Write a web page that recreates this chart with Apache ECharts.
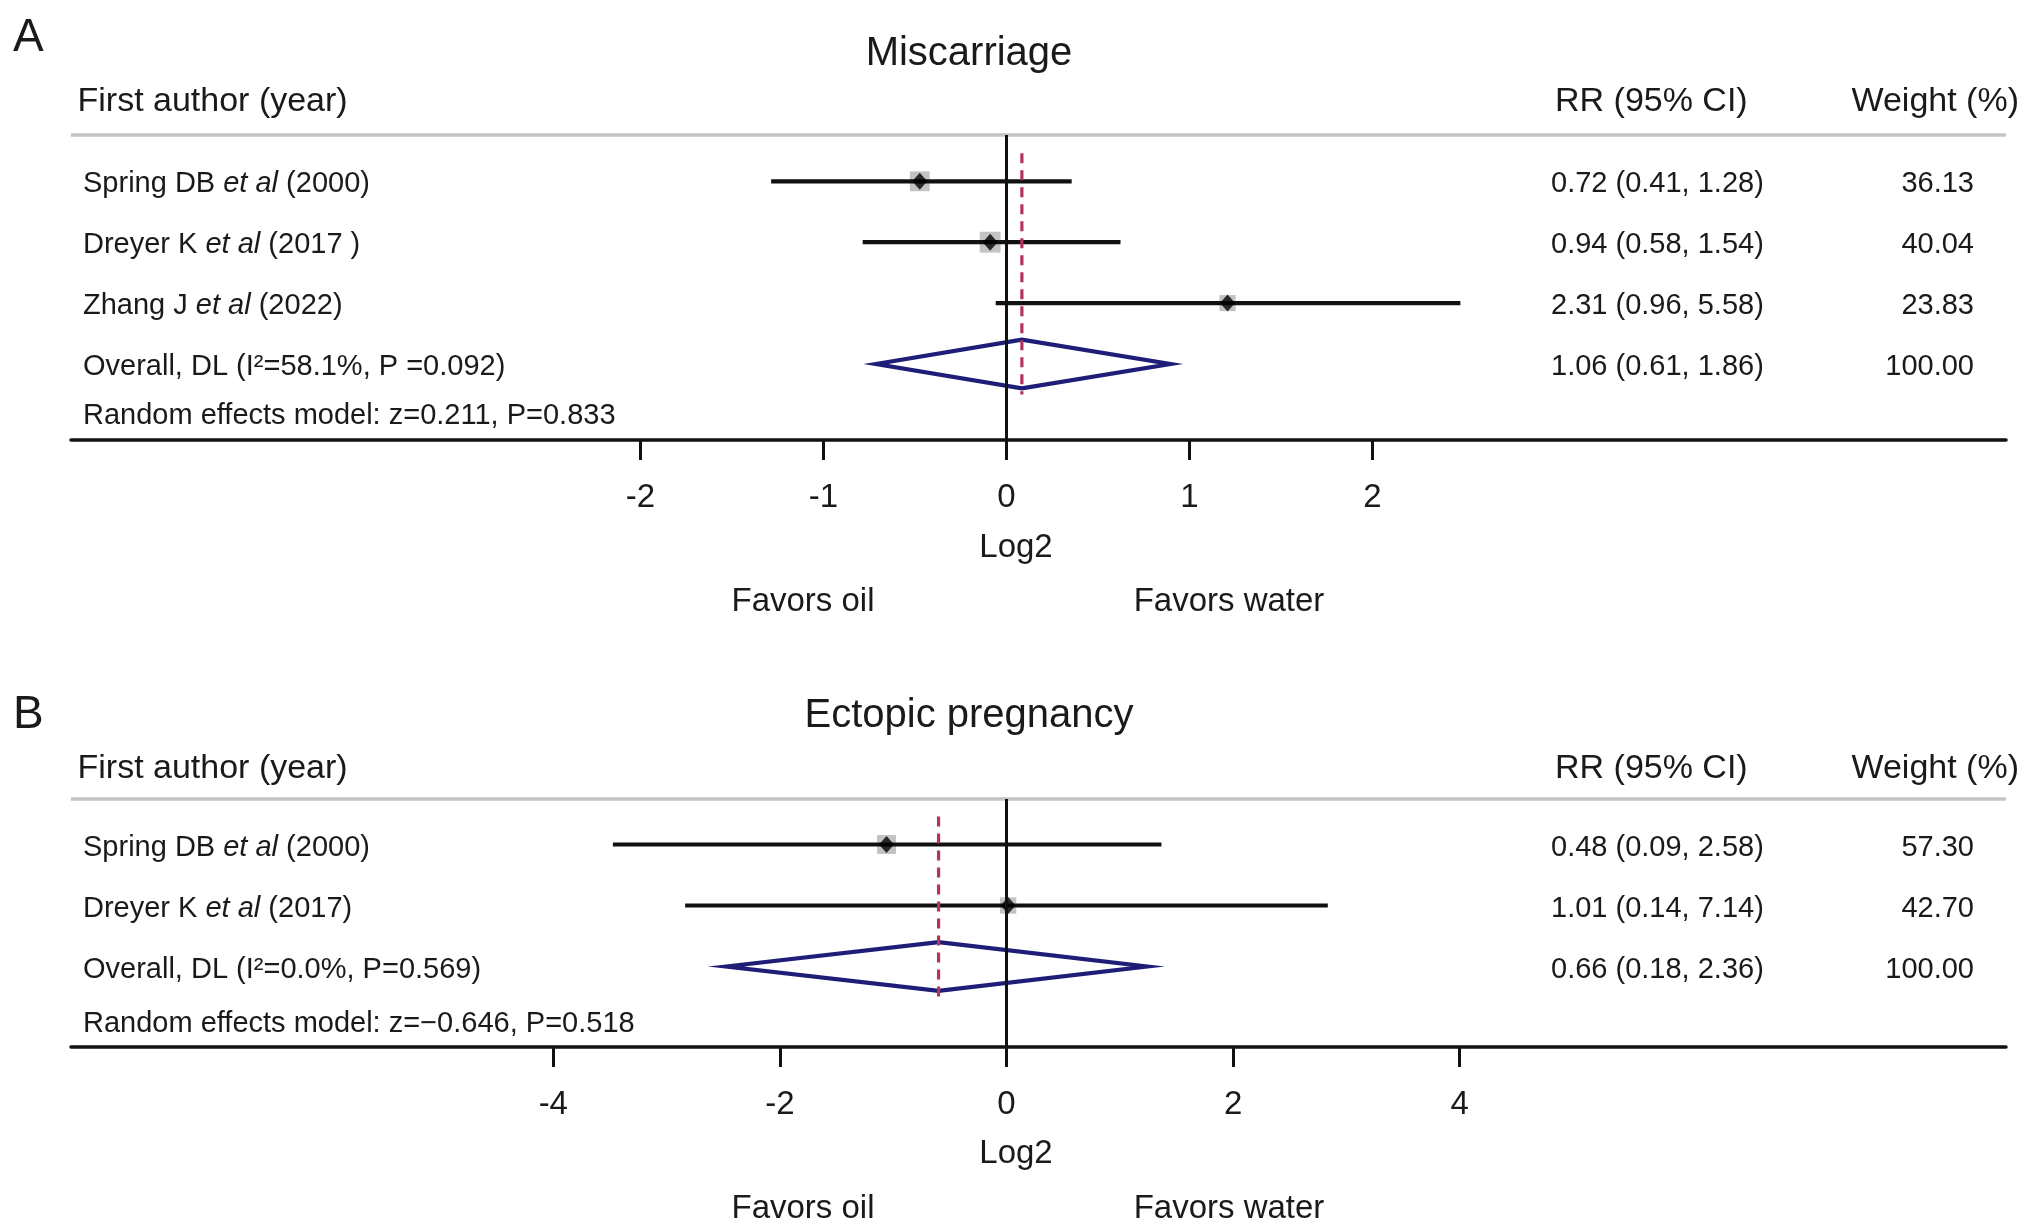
<!DOCTYPE html>
<html>
<head>
<meta charset="utf-8">
<script src="https://cdn.jsdelivr.net/npm/echarts@6/dist/echarts.min.js"></script>
<style>
html,body{margin:0;padding:0;background:#fff;}
#chart{width:2031px;height:1230px;}
</style>
</head>
<body>
<div id="chart"></div>
<script>
// ---------------- Panel A: Miscarriage ----------------
const titleA = 'Miscarriage';
const studiesA = ['Spring DB', 'Dreyer K', 'Zhang J'];
const yearsA = ['(2000)', '(2017 )', '(2022)'];
const rrA = [0.72, 0.94, 2.31];
const lowerA = [0.41, 0.58, 0.96];
const upperA = [1.28, 1.54, 5.58];
const weightA = [36.13, 40.04, 23.83];
const overallA = [1.06, 0.61, 1.86];          // RR, lower, upper
const overallLabelA = 'Overall, DL (I\u00B2=58.1%, P =0.092)';
const modelLabelA = 'Random effects model: z=0.211, P=0.833';
const ticksA = [-2, -1, 0, 1, 2];

// ---------------- Panel B: Ectopic pregnancy ----------------
const titleB = 'Ectopic pregnancy';
const studiesB = ['Spring DB', 'Dreyer K'];
const yearsB = ['(2000)', '(2017)'];
const rrB = [0.48, 1.01];
const lowerB = [0.09, 0.14];
const upperB = [2.58, 7.14];
const weightB = [57.30, 42.70];
const overallB = [0.66, 0.18, 2.36];
const overallLabelB = 'Overall, DL (I\u00B2=0.0%, P=0.569)';
const modelLabelB = 'Random effects model: z=\u22120.646, P=0.518';
const ticksB = [-4, -2, 0, 2, 4];

// ---------------- Layout / styles ----------------
const FONT = "'Liberation Sans', Arial, Helvetica, sans-serif";
const TXT = '#1a1a1a';
const LEFT = 71, RIGHT = 2006, ZERO_X = 1006.5;
const COL_NAME = 83, COL_RR = 1551, COL_W = 1974;
const TXT_DY = 3;

const panels = [
  {
    letter: 'A', title: titleA, names: studiesA, years: yearsA, rr: rrA, lo: lowerA, hi: upperA,
    w: weightA, overall: overallA, overallLabel: overallLabelA, modelLabel: modelLabelA, ticks: ticksA,
    L: { letterY: 38, titleY: 54, headY: 102, top: 135, bottom: 440, row0: 181.3, step: 60.9,
         unit: 183, box: 3.3, modelOff: 0.80, log2Y: 548, favY: 602 }
  },
  {
    letter: 'B', title: titleB, names: studiesB, years: yearsB, rr: rrB, lo: lowerB, hi: upperB,
    w: weightB, overall: overallB, overallLabel: overallLabelB, modelLabel: modelLabelB, ticks: ticksB,
    L: { letterY: 715, titleY: 716, headY: 769, top: 799, bottom: 1047, row0: 844.5, step: 61,
         unit: 113.3, box: 2.5, modelOff: 0.89, log2Y: 1154, favY: 1209 }
  }
];

const grids = [], xAxes = [], yAxes = [], series = [], graphics = [];

function txt(x, y, text, size, align) {
  return {
    type: 'text', x: x, y: y, silent: true,
    style: {
      text: text, font: size + 'px ' + FONT, fill: TXT,
      textAlign: align, textVerticalAlign: 'middle', align: align, verticalAlign: 'middle'
    }
  };
}

panels.forEach(function (p, gi) {
  const L = p.L;
  const n = p.rr.length;
  grids.push({ left: LEFT, width: RIGHT - LEFT, top: L.top, height: L.bottom - L.top, containLabel: false });
  xAxes.push({
    type: 'value', gridIndex: gi,
    min: (LEFT - ZERO_X) / L.unit, max: (RIGHT - ZERO_X) / L.unit,
    axisLine: { show: true, onZero: false, lineStyle: { color: '#111', width: 3.5 } },
    axisTick: { show: true, customValues: p.ticks, length: 20, lineStyle: { color: '#111', width: 3 } },
    axisLabel: { show: true, customValues: p.ticks, margin: 41, fontSize: 33, fontFamily: FONT, color: TXT },
    splitLine: { show: false }
  });
  yAxes.push({
    type: 'value', gridIndex: gi, inverse: true, show: false,
    min: (L.top - L.row0) / L.step, max: (L.bottom - L.row0) / L.step,
    splitLine: { show: false }
  });

  // Weight boxes (+ zero reference line)
  series.push({
    type: 'scatter', xAxisIndex: gi, yAxisIndex: gi, silent: true, z: 2,
    symbol: 'rect',
    symbolSize: function (v) { return L.box * Math.sqrt(v[2]); },
    itemStyle: { color: '#b4b4b4' },
    data: p.rr.map(function (r, i) { return [Math.log2(r), i, p.w[i]]; }),
    markLine: {
      silent: true, symbol: ['none', 'none'], label: { show: false },
      lineStyle: { color: '#111', width: 3, type: 'solid' },
      data: [{ xAxis: 0 }]
    }
  });

  // Confidence interval lines
  series.push({
    type: 'custom', xAxisIndex: gi, yAxisIndex: gi, silent: true, z: 3,
    data: p.rr.map(function (r, i) { return [Math.log2(p.lo[i]), Math.log2(p.hi[i]), i]; }),
    renderItem: function (params, api) {
      const a = api.coord([api.value(0), api.value(2)]);
      const b = api.coord([api.value(1), api.value(2)]);
      return { type: 'line', shape: { x1: a[0], y1: a[1], x2: b[0], y2: b[1] },
               style: { stroke: '#111', lineWidth: 4.2 } };
    }
  });

  // Point estimates
  series.push({
    type: 'scatter', xAxisIndex: gi, yAxisIndex: gi, silent: true, z: 4,
    symbol: 'diamond', symbolSize: [15, 17],
    itemStyle: { color: '#000' },
    data: p.rr.map(function (r, i) { return [Math.log2(r), i]; })
  });

  // Overall diamond
  series.push({
    type: 'custom', xAxisIndex: gi, yAxisIndex: gi, silent: true, z: 4,
    data: [[Math.log2(p.overall[0]), Math.log2(p.overall[1]), Math.log2(p.overall[2]), n]],
    renderItem: function (params, api) {
      const e = api.value(0), lo = api.value(1), hi = api.value(2), y = api.value(3);
      const pts = [api.coord([lo, y]), api.coord([e, y - 0.4]), api.coord([hi, y]), api.coord([e, y + 0.4])];
      return { type: 'polygon', shape: { points: pts },
               style: { fill: 'none', stroke: '#1e1e78', lineWidth: 4.2, lineJoin: 'miter', miterLimit: 10 } };
    }
  });

  // Dashed overall-effect line
  series.push({
    type: 'custom', xAxisIndex: gi, yAxisIndex: gi, silent: true, z: 6,
    data: [[Math.log2(p.overall[0]), n]],
    renderItem: function (params, api) {
      const a = api.coord([api.value(0), -0.46]);
      const b = api.coord([api.value(0), api.value(1) + 0.5]);
      return { type: 'line', shape: { x1: a[0], y1: a[1], x2: b[0], y2: b[1] },
               style: { stroke: '#b3345a', lineWidth: 3.2, lineDash: [10, 7] } };
    }
  });

  // Row texts
  const rows = [];
  p.names.forEach(function (nm, i) {
    rows.push({ value: [0, i],
      name: '{n|' + nm + ' }{i|et al}{n| ' + p.years[i] + '}',
      rrText: p.rr[i].toFixed(2) + ' (' + p.lo[i].toFixed(2) + ', ' + p.hi[i].toFixed(2) + ')',
      wText: p.w[i].toFixed(2) });
  });
  rows.push({ value: [0, n], name: '{n|' + p.overallLabel + '}',
    rrText: p.overall[0].toFixed(2) + ' (' + p.overall[1].toFixed(2) + ', ' + p.overall[2].toFixed(2) + ')',
    wText: '100.00' });
  rows.push({ value: [0, n + L.modelOff], name: '{n|' + p.modelLabel + '}', rrText: '', wText: '' });

  series.push({
    type: 'custom', xAxisIndex: gi, yAxisIndex: gi, silent: true, z: 7,
    data: rows.map(function (r) { return r.value; }),
    renderItem: function (params, api) {
      const r = rows[params.dataIndex];
      const y = api.coord([0, api.value(1)])[1] + TXT_DY;
      const rich = {
        n: { fontSize: 29, fontFamily: FONT, fill: TXT, color: TXT },
        i: { fontSize: 29, fontFamily: FONT, fontStyle: 'italic', fill: TXT, color: TXT }
      };
      const children = [{
        type: 'text', x: COL_NAME, y: y,
        style: { text: r.name, rich: rich, font: '29px ' + FONT, fill: TXT,
                 textAlign: 'left', textVerticalAlign: 'middle', align: 'left', verticalAlign: 'middle' }
      }];
      if (r.rrText) {
        children.push({ type: 'text', x: COL_RR, y: y,
          style: { text: r.rrText, font: '29px ' + FONT, fill: TXT,
                   textAlign: 'left', textVerticalAlign: 'middle', align: 'left', verticalAlign: 'middle' } });
        children.push({ type: 'text', x: COL_W, y: y,
          style: { text: r.wText, font: '29px ' + FONT, fill: TXT,
                   textAlign: 'right', textVerticalAlign: 'middle', align: 'right', verticalAlign: 'middle' } });
      }
      return { type: 'group', children: children };
    }
  });

  // Static texts and header rule
  graphics.push(txt(13, L.letterY, p.letter, 46, 'left'));
  graphics.push(txt(969, L.titleY, p.title, 40, 'center'));
  graphics.push(txt(77.5, L.headY, 'First author (year)', 34, 'left'));
  graphics.push(txt(1555, L.headY, 'RR (95% CI)', 34, 'left'));
  graphics.push(txt(2019, L.headY, 'Weight (%)', 34, 'right'));
  graphics.push({ type: 'line', silent: true,
    shape: { x1: LEFT, y1: L.top, x2: RIGHT, y2: L.top },
    style: { stroke: '#c4c4c4', lineWidth: 3.5 } });
  graphics.push(txt(1016, L.log2Y, 'Log2', 33, 'center'));
  graphics.push(txt(803, L.favY, 'Favors oil', 33, 'center'));
  graphics.push(txt(1229, L.favY, 'Favors water', 33, 'center'));
});

const chart = echarts.init(document.getElementById('chart'), null, { renderer: 'canvas' });
chart.setOption({
  animation: false,
  backgroundColor: '#ffffff',
  grid: grids,
  xAxis: xAxes,
  yAxis: yAxes,
  series: series,
  graphic: { elements: graphics }
});
</script>
</body>
</html>
